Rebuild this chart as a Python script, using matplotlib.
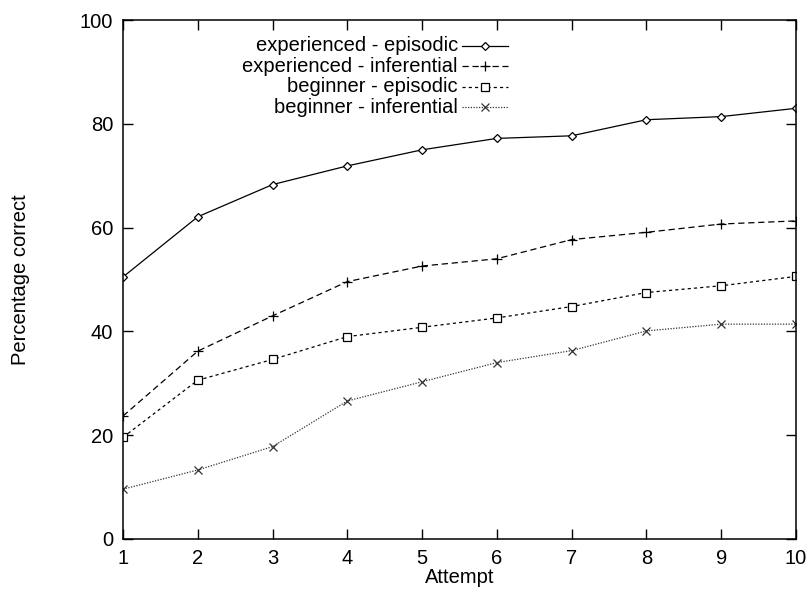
import matplotlib
matplotlib.use("Agg")
import matplotlib.pyplot as plt
from matplotlib.lines import Line2D

plt.rcParams['font.family'] = ['Liberation Sans', 'DejaVu Sans']

# data
attempts = [1, 2, 3, 4, 5, 6, 7, 8, 9, 10]
exp_episodic = [50.5, 62.1, 68.3, 71.9, 75.0, 77.2, 77.7, 80.8, 81.4, 83.0]
exp_inferential = [23.7, 36.2, 43.0, 49.6, 52.6, 54.0, 57.7, 59.1, 60.7, 61.3]
beg_episodic = [19.6, 30.6, 34.6, 39.0, 40.8, 42.6, 44.8, 47.5, 48.8, 50.6]
beg_inferential = [9.6, 13.3, 17.8, 26.6, 30.3, 34.0, 36.3, 40.1, 41.4, 41.4]

labels = ['experienced - episodic', 'experienced - inferential',
          'beginner - episodic', 'beginner - inferential']
series = [exp_episodic, exp_inferential, beg_episodic, beg_inferential]
styles = [
    dict(ls='-', marker='D', ms=4.5, mfc='white', color='black'),
    dict(ls=(0, (5, 3)), marker='+', ms=7, color='black'),
    dict(ls=(0, (2.5, 2.5)), marker='s', ms=6, mfc='white', color='black'),
    dict(ls=(0, (1, 1.2)), marker='x', ms=6, color='#333333'),
]

FS = 14.5

fig = plt.figure(figsize=(8.06, 5.89), dpi=100)
ax = fig.add_axes([0.1526, 0.0849, 0.835, 0.881])

for vals, st in zip(series, styles):
    ax.plot(attempts, vals, lw=0.9, mew=0.9, **st)

ax.set_xlim(1, 10)
ax.set_ylim(0, 100)
ax.set_xticks(attempts)
ax.set_yticks([0, 20, 40, 60, 80, 100])
ax.tick_params(direction='in', length=7, width=1, top=True, right=True,
               labelsize=FS, pad=7)
ax.tick_params(axis='x', pad=7.5)
for s in ax.spines.values():
    s.set_linewidth(1.1)

ax.set_xlabel('Attempt', fontsize=FS, labelpad=0)
ax.set_ylabel('Percentage correct', fontsize=FS, labelpad=36)

# gnuplot-style legend: right-aligned text, sample on the right
row_y = [45.5, 66, 86.5, 107]
W, H = 806, 589
for lab, st, py in zip(labels, styles, row_y):
    yf = 1 - py / H
    fig.text(458 / W, yf, lab, ha='right', va='center', fontsize=FS)
    fig.add_artist(Line2D([462 / W, 508 / W], [yf, yf], lw=0.9,
                          ls=st['ls'], color=st['color']))
    fig.add_artist(Line2D([485 / W], [yf], marker=st['marker'], ms=st['ms'],
                          mfc=st.get('mfc', 'none'), mec=st['color'], mew=0.9, ls='none'))

fig.savefig('out.png', dpi=100)
